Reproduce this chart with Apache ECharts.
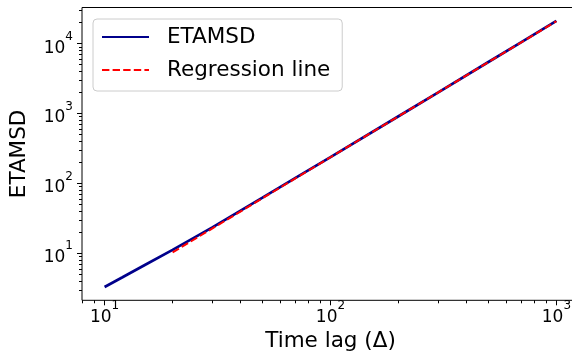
<!DOCTYPE html>
<html>
<head>
<meta charset="utf-8">
<script src="https://cdn.jsdelivr.net/npm/echarts@6/dist/echarts.min.js"></script>
<style>
  html, body { margin: 0; padding: 0; background: #fff; }
  #chart { width: 572px; height: 353px; }
</style>
</head>
<body>
<div id="chart"></div>
<script>
// time lags and ensemble-time-averaged MSD
const etaLag = [10, 12, 15, 20, 30, 50, 70, 100, 200, 300, 500, 700, 1000]
const etaMsd = [3.3, 4.55, 6.75, 11.2, 23.5, 62.5, 120, 238, 915, 2010, 5460, 10500, 21200]
// fitted power law, drawn over 20..1000
const regLag = [20, 50, 100, 200, 500, 1000]
const regMsd = [10.3, 61.4, 237, 912, 5430, 20900]
// decade ticks
const xTicks = [10, 100, 1000]
const yTicks = [10, 100, 1000, 10000]

const FONT = 'DejaVu Sans'
const lg = Math.log10

// matplotlib-like 5% margins in log space
const pad = (lo, hi) => {
  const a = lg(lo), b = lg(hi), m = (b - a) * 0.05
  return [a - m, b + m]
}
const xLim = pad(Math.min(...etaLag), Math.max(...etaLag))
const yLim = pad(Math.min(...etaMsd), Math.max(...etaMsd))

const minors = lim => {
  const out = []
  for (let n = Math.floor(lim[0]); n <= Math.ceil(lim[1]); n++) {
    for (let k = 2; k <= 9; k++) {
      const v = lg(k) + n
      if (v >= lim[0] && v <= lim[1]) out.push(v)
    }
  }
  return out
}

const rich = {
  b: { fontSize: 17, fontFamily: FONT, color: '#000', lineHeight: 26, verticalAlign: 'bottom' },
  s: { fontSize: 12, fontFamily: FONT, color: '#000', lineHeight: 12, verticalAlign: 'top' }
}
const powLabel = v => '{b|10}{s|' + Math.round(v) + '}'

const tickAxis = (lim, values, len, labels, extra) => Object.assign({
  type: 'value',
  min: lim[0],
  max: lim[1],
  axisLine: { show: false },
  splitLine: { show: false },
  axisTick: { show: true, customValues: values, length: len, lineStyle: { color: '#000', width: 1 } },
  axisLabel: labels
    ? { show: true, customValues: values, formatter: powLabel, rich: rich }
    : { show: false },
  silent: true
}, extra)

const chart = echarts.init(document.getElementById('chart'))
chart.setOption({
  animation: false,
  backgroundColor: '#fff',
  grid: {
    left: 82, top: 7.5, width: 497, height: 292.8,
    show: true, borderColor: '#000', borderWidth: 1,
    outerBoundsMode: 'none', containLabel: false
  },
  legend: {
    left: 93, top: 19, orient: 'vertical',
    padding: [6, 12, 9, 8],
    itemWidth: 47, itemHeight: 14, itemGap: 9,
    itemStyle: { opacity: 0 },
    backgroundColor: 'rgba(255,255,255,0.8)',
    borderColor: '#cccccc', borderWidth: 1, borderRadius: 4,
    textStyle: { fontSize: 21.5, fontFamily: FONT, color: '#000', lineHeight: 24, padding: [0, 0, 0, 13] },
    data: ['ETAMSD', 'Regression line']
  },
  xAxis: [
    {
      type: 'log', logBase: 10,
      min: Math.pow(10, xLim[0]), max: Math.pow(10, xLim[1]),
      name: 'Time lag (Δ)', nameLocation: 'middle', nameGap: 30,
      nameTextStyle: { fontSize: 21.5, fontFamily: FONT, color: '#000' },
      axisLine: { show: false }, axisTick: { show: false }, axisLabel: { show: false },
      splitLine: { show: false }, minorTick: { show: false }
    },
    tickAxis(xLim, xTicks.map(lg), 5, true, { position: 'bottom', axisLabel: { show: true, customValues: xTicks.map(lg), formatter: powLabel, rich: rich, margin: 0 } }),
    tickAxis(xLim, minors(xLim), 3, false, { position: 'bottom' })
  ],
  yAxis: [
    {
      type: 'log', logBase: 10,
      min: Math.pow(10, yLim[0]), max: Math.pow(10, yLim[1]),
      name: 'ETAMSD', nameLocation: 'middle', nameGap: 52, nameRotate: 90,
      nameTextStyle: { fontSize: 21.5, fontFamily: FONT, color: '#000' },
      axisLine: { show: false }, axisTick: { show: false }, axisLabel: { show: false },
      splitLine: { show: false }, minorTick: { show: false }
    },
    tickAxis(yLim, yTicks.map(lg), 5, true, { position: 'left', axisLabel: { show: true, customValues: yTicks.map(lg), formatter: powLabel, rich: rich, margin: 9 } }),
    tickAxis(yLim, minors(yLim), 3, false, { position: 'left' })
  ],
  series: [
    {
      name: 'ETAMSD', type: 'line', xAxisIndex: 0, yAxisIndex: 0,
      data: etaLag.map((x, i) => [x, etaMsd[i]]),
      symbol: 'none', smooth: false,
      lineStyle: { color: '#00008b', width: 2.7 },
      itemStyle: { color: '#00008b' }
    },
    {
      name: 'Regression line', type: 'line', xAxisIndex: 0, yAxisIndex: 0,
      data: regLag.map((x, i) => [x, regMsd[i]]),
      symbol: 'none', smooth: false,
      lineStyle: { color: '#ff0000', width: 2, type: [7.4, 3.2] },
      itemStyle: { color: '#ff0000' }
    }
  ]
})
window.addEventListener('resize', () => chart.resize())
</script>
</body>
</html>
